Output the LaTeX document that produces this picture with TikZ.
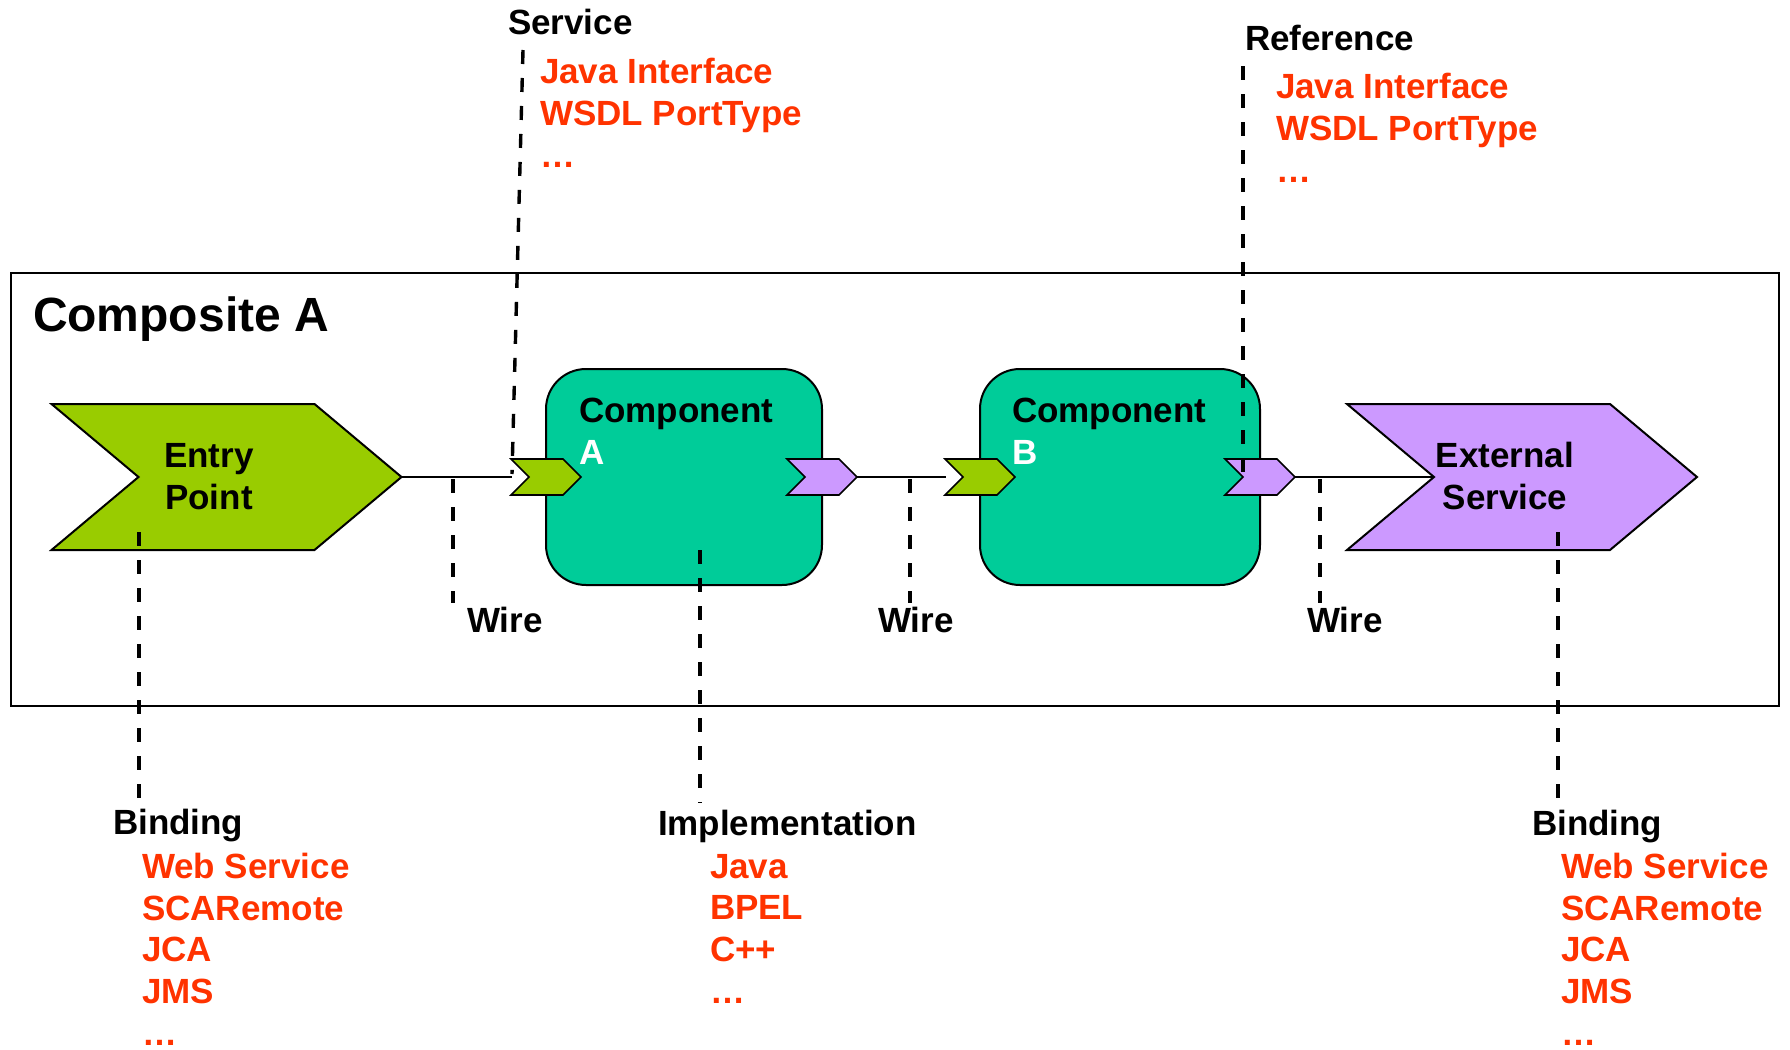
\documentclass[tikz,border=0pt]{standalone}
\usepackage{fontspec}
\setmainfont{Liberation Sans}
\usetikzlibrary{shapes.symbols,positioning}

\definecolor{scagreen}{HTML}{99CC00}
\definecolor{scateal}{HTML}{00CC99}
\definecolor{scapurple}{HTML}{CC99FF}
\definecolor{scared}{HTML}{FF3300}

\begin{document}
\begin{tikzpicture}[x=0.5pt, y=-0.5pt, every node/.style={outer sep=0pt, inner sep=0pt},
    txt/.style={font=\fontsize{17.5}{20.8}\selectfont\bfseries, align=left, anchor=base west},
    redtxt/.style={txt, text=scared},
    bigarrow/.style={signal, signal to=east, signal from=west, signal pointer angle=80, draw, line width=1pt, minimum width=175pt, minimum height=73pt},
    port/.style={signal, signal to=east, signal from=west, signal pointer angle=90, draw, line width=0.8pt, minimum width=35pt, minimum height=18pt},
    comp/.style={rectangle, rounded corners=20pt, draw, fill=scateal, line width=1pt, minimum height=108pt},
    wire/.style={line width=1pt},
    dashline/.style={line width=1.7pt, dash pattern=on 7pt off 7pt}]
    \useasboundingbox (0,0) rectangle (1790,1050);
    % composite frame
    \node (composite) [draw, line width=1pt, minimum width=884pt, minimum height=216.5pt, anchor=north west] at (11,273) {};
    \node (title) [font=\fontsize{24}{28}\selectfont\bfseries, anchor=base west] at (33,331) {Composite A};
    % entry point and external service
    \node (entry) [bigarrow, fill=scagreen] at (226.5,477) {};
    \node (entrytxt) [txt, align=center, anchor=base] at (209,509) {Entry\\Point};
    \node (external) [bigarrow, fill=scapurple] at (1522,477) {};
    \node (externaltxt) [txt, align=center, anchor=base] at (1505,509) {External\\Service};
    % components
    \node (compA) [comp, minimum width=138pt] at (684,477) {};
    \node (compAtxt) [txt] at (579,464) {Component\\\textcolor{white}{A}};
    \node (compB) [comp, minimum width=140pt] at (1120,477) {};
    \node (compBtxt) [txt] at (1012,464) {Component\\\textcolor{white}{B}};
    % ports
    \node (portAin) [port, fill=scagreen] at (compA.west) {};
    \node (portAout) [port, fill=scapurple] at (compA.east) {};
    \node (portBin) [port, fill=scagreen] at (compB.west) {};
    \node (portBout) [port, fill=scapurple] at (compB.east) {};
    % wires
    \draw [wire] (entry.east) -- ([xshift=-8.5pt]portAin.west);
    \draw [wire] (portAout.east) -- ([xshift=-8.5pt]portBin.west);
    \draw [wire] (portBout.east) -- (external.west);
    \foreach \n/\x/\lx in {1/453/467, 2/910/878, 3/1320/1307} {
        \coordinate (wire\n top) at (\x,479);
        \coordinate (wire\n bot) at (\x,603);
        \node (wire\n) [txt] at (\lx,632) {Wire};
        \draw [dashline] (wire\n top) -- (wire\n bot);
    }
    % service / reference
    \node (service) [txt] at (508,34) {Service};
    \node (servicelist) [redtxt] at (540,167) {Java Interface\\WSDL PortType\\…};
    \coordinate (servicetop) at (523,50);
    \coordinate (serviceend) at (512,474);
    \draw [dashline] (servicetop) -- (serviceend);
    \node (reference) [txt] at (1245,50) {Reference};
    \node (referencelist) [redtxt] at (1276,182) {Java Interface\\WSDL PortType\\…};
    \coordinate (referencetop) at (1243,66);
    \coordinate (referenceend) at (1243,476);
    \draw [dashline] (referencetop) -- (referenceend);
    % bindings and implementation
    \node (bindingA) [txt] at (113,834) {Binding};
    \node (bindingAlist) [redtxt] at (142,1045) {Web Service\\SCARemote\\JCA\\JMS\\…};
    \coordinate (bindingAtop) at (139,532);
    \coordinate (bindingAend) at (139,798);
    \draw [dashline] (bindingAtop) -- (bindingAend);
    \node (impl) [txt] at (658,835) {Implementation};
    \node (impllist) [redtxt] at (710,1003) {Java\\BPEL\\C++\\…};
    \coordinate (impltop) at (700,550);
    \coordinate (implend) at (700,803);
    \draw [dashline] (impltop) -- (implend);
    \node (bindingB) [txt] at (1532,835) {Binding};
    \node (bindingBlist) [redtxt] at (1561,1045) {Web Service\\SCARemote\\JCA\\JMS\\…};
    \coordinate (bindingBtop) at (1558,532);
    \coordinate (bindingBend) at (1558,798);
    \draw [dashline] (bindingBtop) -- (bindingBend);
\end{tikzpicture}
\end{document}
